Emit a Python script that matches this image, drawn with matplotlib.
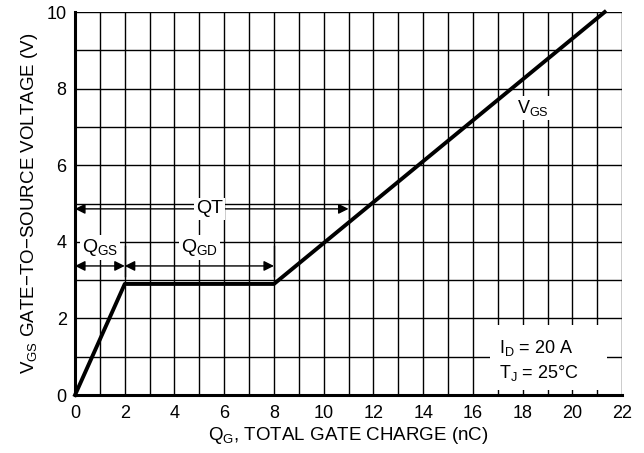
import matplotlib.pyplot as plt
from matplotlib.patches import Rectangle
import numpy as np

plt.rcParams['font.family'] = ['Liberation Sans', 'DejaVu Sans']
plt.rcParams['mathtext.fontset'] = 'custom'
plt.rcParams['mathtext.rm'] = 'Liberation Sans'
plt.rcParams['mathtext.it'] = 'Liberation Sans'

# gate charge curve (nC, V)
qg = [0, 2, 8, 21.3]
vgs = [0, 2.9, 2.9, 10]

x_ticks = [0, 2, 4, 6, 8, 10, 12, 14, 16, 18, 20, 22]
y_ticks = [0, 2, 4, 6, 8, 10]

fig = plt.figure(figsize=(6.44, 4.53), dpi=100)
ax = fig.add_axes([0.1165, 0.128, 0.8495, 0.8455])

ax.set_xlim(0, 22)
ax.set_ylim(0, 10)
ax.set_xticks(x_ticks)
ax.set_yticks(y_ticks)
ax.set_xticks(np.arange(0, 23, 1), minor=True)
ax.set_yticks(np.arange(0, 11, 1), minor=True)
ax.grid(which='both', color='black', linewidth=1.0)
ax.tick_params(which='both', length=0, labelsize=13)
ax.tick_params(axis='x', pad=7)
ax.tick_params(axis='y', pad=6)
for s in ['top', 'right']:
    ax.spines[s].set_visible(False)
for s in ['left', 'bottom']:
    ax.spines[s].set_linewidth(2.2)
    ax.spines[s].set_zorder(5)

ax.plot(qg, vgs, color='black', linewidth=2.8, zorder=4, clip_on=False)

arrow = dict(arrowstyle='<|-|>', color='black', lw=1.0,
             mutation_scale=15, shrinkA=0, shrinkB=0)
box = dict(facecolor='white', edgecolor='none', pad=1.5)

# QT
ax.annotate('', xy=(0, 4.86), xytext=(11, 4.86), arrowprops=arrow, zorder=3)
ax.plot([11, 11], [4.62, 5.1], color='black', lw=1.0, zorder=3)
ax.text(5.4, 4.86, 'QT', fontsize=14, ha='center', va='center', bbox=box, zorder=4)

# QGS / QGD
ax.annotate('', xy=(0, 3.37), xytext=(2, 3.37), arrowprops=arrow, zorder=3)
ax.annotate('', xy=(2, 3.37), xytext=(8, 3.37), arrowprops=arrow, zorder=3)
ax.plot([2, 2], [3.1, 3.9], color='black', lw=1.0, zorder=3)
ax.plot([8, 8], [3.1, 3.9], color='black', lw=1.0, zorder=3)
ax.text(1.0, 3.85, r'Q$_{\mathregular{GS}}$', fontsize=14, ha='center', va='center',
        bbox=box, zorder=4)
ax.text(5.0, 3.85, r'Q$_{\mathregular{GD}}$', fontsize=14, ha='center', va='center',
        bbox=box, zorder=4)

ax.text(18.4, 7.5, r'V$_{\mathregular{GS}}$', fontsize=13, ha='center', va='center',
        bbox=box, zorder=4)

# condition box
ax.add_patch(Rectangle((16.7, 0.13), 4.7, 1.7, facecolor='white',
                       edgecolor='none', zorder=3))
ax.text(17.05, 1.23, 'I$_{\\mathregular{D}}$ = 20 A', fontsize=13,
        ha='left', va='center', zorder=4)
ax.text(17.05, 0.57, 'T$_{\\mathregular{J}}$ = 25°C', fontsize=13,
        ha='left', va='center', zorder=4)

ax.set_xlabel(r'Q$_{\mathregular{G}}$, TOTAL GATE CHARGE (nC)', fontsize=13.5, labelpad=2)
ax.set_ylabel(r'V$_{\mathregular{GS}}$ GATE−TO−SOURCE VOLTAGE (V)', fontsize=13.5, labelpad=5)

fig.savefig('out.png', dpi=100)
plt.close(fig)
